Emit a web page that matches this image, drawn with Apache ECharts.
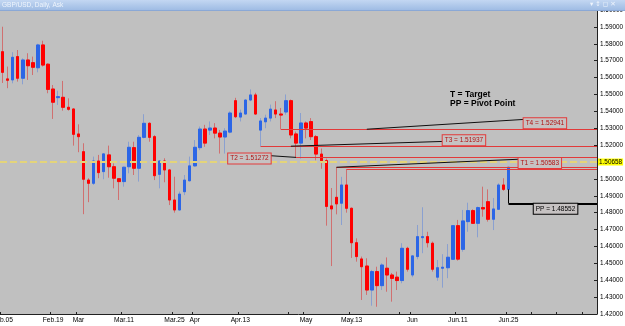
<!DOCTYPE html>
<html>
<head>
<meta charset="utf-8">
<script src="https://cdn.jsdelivr.net/npm/echarts@6/dist/echarts.min.js"></script>
<style>
html,body{margin:0;padding:0;background:#ffffff;}
#chart{width:625px;height:326px;}
</style>
</head>
<body>
<div id="chart"></div>
<script>
// ---------------- data ----------------
const firstDay = '2010-02-05';
const totalSlots = 118; // trading-day slots shown (incl. empty future space)

const opens = [1.5753,1.5592,1.5586,1.5724,1.5596,1.5704,1.5688,1.5658,1.5793,1.5679,
1.5532,1.5481,1.5483,1.5424,1.5414,1.5266,1.5161,1.4993,1.4974,1.5106,
1.5043,1.5142,1.5072,1.5001,1.4984,1.5072,1.5185,1.5063,1.5246,1.5329,
1.5250,1.5027,1.5106,1.5053,1.4875,1.4816,1.4924,1.4989,1.5077,1.5185,
1.5295,1.5289,1.5301,1.5271,1.5248,1.5277,1.5463,1.5366,1.5384,1.5467,
1.5497,1.5289,1.5338,1.5360,1.5408,1.5384,1.5396,1.5463,1.5266,1.5212,
1.5331,1.5339,1.5250,1.5147,1.5108,1.4840,1.4891,1.4856,1.4964,1.4826,
1.4622,1.4526,1.4484,1.4342,1.4451,1.4368,1.4471,1.4431,1.4418,1.4398,
1.4589,1.4431,1.4540,1.4652,1.4658,1.4619,1.4418,1.4471,1.4474,1.4524,
1.4723,1.4583,1.4747,1.4812,1.4737,1.4830,1.4865,1.4761,1.4820,1.4964,
1.4938];
const highs = [1.5901,1.5665,1.5750,1.5763,1.5714,1.5744,1.5724,1.5800,1.5818,1.5684,
1.5556,1.5522,1.5580,1.5477,1.5418,1.5323,1.5211,1.5004,1.5132,1.5142,
1.5152,1.5197,1.5092,1.5004,1.5072,1.5220,1.5220,1.5259,1.5383,1.5335,
1.5259,1.5112,1.5122,1.5059,1.5013,1.4925,1.5023,1.5132,1.5230,1.5310,
1.5320,1.5340,1.5330,1.5290,1.5300,1.5400,1.5480,1.5410,1.5470,1.5530,
1.5510,1.5360,1.5380,1.5440,1.5460,1.5420,1.5500,1.5470,1.5280,1.5390,
1.5340,1.5360,1.5260,1.5180,1.5120,1.4946,1.5069,1.5012,1.5058,1.4830,
1.4648,1.4540,1.4530,1.4461,1.4480,1.4500,1.4535,1.4443,1.4451,1.4619,
1.4598,1.4549,1.4727,1.4832,1.4687,1.4629,1.4520,1.4554,1.4614,1.4727,
1.4757,1.4816,1.4859,1.4820,1.4836,1.4954,1.4938,1.4887,1.4974,1.5004,
1.5071];
const lows = [1.5568,1.5537,1.5566,1.5576,1.5560,1.5586,1.5615,1.5631,1.5665,1.5507,
1.5355,1.5438,1.5404,1.5404,1.5197,1.5158,1.4791,1.4862,1.4964,1.5004,
1.4998,1.5007,1.4944,1.4875,1.4954,1.5033,1.5023,1.4984,1.5240,1.5220,
1.4993,1.4944,1.4980,1.4845,1.4800,1.4812,1.4904,1.4984,1.5072,1.5170,
1.5190,1.5260,1.5240,1.5150,1.5150,1.5270,1.5360,1.5340,1.5380,1.5460,
1.5380,1.51937,1.5300,1.5340,1.5360,1.52941,1.5380,1.5240,1.51272,1.5120,
1.5240,1.5230,1.5110,1.5060,1.4723,1.4484,1.4790,1.4727,1.4800,1.4532,
1.4510,1.4283,1.4313,1.4249,1.4243,1.4342,1.4332,1.4273,1.4342,1.4382,
1.4451,1.4418,1.4524,1.4560,1.4594,1.4451,1.4397,1.4356,1.4412,1.4520,
1.4516,1.4569,1.4687,1.4733,1.4654,1.4776,1.4747,1.4697,1.4816,1.4929,
1.4930];
const closes = [1.5631,1.5584,1.5720,1.5596,1.5704,1.5670,1.5661,1.5793,1.5674,1.5530,
1.5454,1.5487,1.5424,1.5412,1.5264,1.5250,1.4998,1.4974,1.5106,1.5037,
1.5148,1.5072,1.5004,1.4984,1.5069,1.5187,1.5063,1.5246,1.5329,1.5246,
1.5019,1.5106,1.5053,1.4875,1.4816,1.4910,1.4993,1.5077,1.5187,1.5295,
1.5212,1.5301,1.5271,1.5248,1.5283,1.5390,1.5368,1.5390,1.5467,1.5497,
1.5384,1.5343,1.5360,1.5413,1.5384,1.5378,1.5463,1.5260,1.5212,1.5331,
1.5301,1.5250,1.5147,1.5108,1.4837,1.4822,1.4852,1.4964,1.4826,1.4622,
1.4540,1.4480,1.4342,1.4451,1.4368,1.4490,1.4431,1.4411,1.4398,1.4589,
1.4465,1.4544,1.4658,1.4658,1.4622,1.4465,1.4474,1.4477,1.4536,1.4723,
1.4525,1.4751,1.4812,1.4737,1.4830,1.4822,1.4761,1.4822,1.4964,1.4938,
1.5069];

const askPrice = 1.50658;
const targetNames = ['T1','T2','T3','T4'];
const targetValues = [1.50583, 1.51272, 1.51937, 1.52941];
const pivotName = 'PP';
const pivotValue = 1.48552;
const noteLines = ['T = Target', 'PP = Pivot Point'];
const titleText = 'GBP/USD, Daily, Ask';

const tickLabelDates = ['2010-02-05','2010-02-19','2010-02-26','2010-03-11','2010-03-25','2010-03-31','2010-04-13','2010-04-30','2010-05-13','2010-05-31','2010-06-11','2010-06-25'];
const tickLabels = ['Feb.05','Feb.19','Mar','Mar.11','Mar.25','Apr','Apr.13','May','May.13','Jun','Jun.11','Jun.25'];
const extraTickDates = ['2010-04-27','2010-05-27','2010-07-02','2010-07-09','2010-07-16'];

// rays drawn from a candle extreme to the right edge: start date, price
const rayDates = ['2010-04-19','2010-04-28','2010-04-23','2010-05-10','2010-05-12'];
const rayPrices = [1.51937, 1.51272, 1.52941, 1.5069, 1.50583];

// ---------------- build ----------------
const W = 625, H = 326;
const gridLeft = 0, gridRight = 28, gridTop = 10, gridBottom = 12;
const plotRight = W - gridRight;

const categories = [];
(function(){
  const d = new Date(firstDay + 'T00:00:00Z');
  while (categories.length < totalSlots) {
    const wd = d.getUTCDay();
    if (wd !== 0 && wd !== 6) categories.push(d.toISOString().slice(0,10));
    d.setUTCDate(d.getUTCDate() + 1);
  }
})();
const idxOf = s => categories.indexOf(s);
const lastIdx = opens.length - 1;

const candleData = opens.map((o,i)=>[o, closes[i], lows[i], highs[i]]);
const bodyData = opens.map((o,i)=>[o, closes[i], Math.min(o,closes[i]), Math.max(o,closes[i])]);

const labelMap = {};
tickLabelDates.forEach((d,i)=>labelMap[d]=tickLabels[i]);
const tickSet = new Set(tickLabelDates.concat(extraTickDates));

const red = '#ff0000', blue = '#2c66e6';
const lineRed = '#e23a3a';
const solid = (c,w)=>({color:c, width:w, type:'solid'});

const markLines = [];
rayDates.forEach((d,i)=>{
  markLines.push([{coord:[idxOf(d), rayPrices[i]], lineStyle:solid(lineRed,1)}, {coord:[totalSlots-1, rayPrices[i]], x: plotRight}]);
});
// black connectors from level to label
const T = targetValues;
markLines.push([{coord:[72, T[3]], lineStyle:solid('#101010',1)}, {coord:[103, T[3]+0.0058]}]);
markLines.push([{coord:[57, T[2]], lineStyle:solid('#101010',1)}, {coord:[87, T[2]+0.0028]}]);
markLines.push([{coord:[53, T[1]+0.0010], lineStyle:solid('#101010',1)}, {coord:[58, T[1]]}]);
markLines.push([{coord:[66, rayPrices[3]], lineStyle:solid('#101010',1)}, {coord:[102, T[0]+0.0058]}]);
// pivot
markLines.push([{coord:[lastIdx, opens[lastIdx]], lineStyle:solid('#000',1)}, {coord:[lastIdx, pivotValue]}]);
markLines.push([{coord:[lastIdx, pivotValue], lineStyle:solid('#000',2)}, {coord:[totalSlots-1, pivotValue], x: plotRight}]);

const boxLabel = (txt, pos, offset, col, bcol) => ({
  show:true, position:pos, distance:0, offset:offset, formatter:txt,
  color:col, fontSize:6.5, fontFamily:'Liberation Sans, Arial, sans-serif',
  backgroundColor:'#c6c2c2', borderColor:bcol, borderWidth:1, padding:[2,2,1,2], lineHeight:7
});
const fmt = v => v.toFixed(5);
const markPoints = [
  {coord:[103, T[3]], label: boxLabel(targetNames[3]+' = '+fmt(T[3]), 'right', [0,-6], '#b01010', lineRed)},
  {coord:[87, T[2]], label: boxLabel(targetNames[2]+' = '+fmt(T[2]), 'right', [0,-6], '#b01010', lineRed)},
  {coord:[53, T[1]], label: boxLabel(targetNames[1]+' = '+fmt(T[1]), 'left', [0,1], '#b01010', lineRed)},
  {coord:[102, T[0]], label: boxLabel(targetNames[0]+' = '+fmt(T[0]), 'right', [0,-6], '#b01010', lineRed)},
  {coord:[105, pivotValue], label: boxLabel(pivotName+' = '+fmt(pivotValue), 'right', [0,5.5], '#000', '#000')}
];

const chart = echarts.init(document.getElementById('chart'), null, {renderer:'canvas', width:W, height:H});
const axisFont = 'Liberation Sans, Arial, sans-serif';

chart.setOption({
  animation:false,
  backgroundColor:'#ffffff',
  grid:{left:gridLeft, right:gridRight, top:gridTop, bottom:gridBottom, containLabel:false, outerBoundsMode:'none',
        show:true, backgroundColor:'#c0c0c0', borderWidth:0},
  xAxis:{
    type:'category', data:categories, boundaryGap:true,
    axisLine:{show:true, lineStyle:{color:'#202020', width:1}},
    axisTick:{show:true, inside:true, length:2, lineStyle:{color:'#202020'}, interval:(i,v)=>tickSet.has(v)},
    axisLabel:{show:true, interval:(i,v)=>labelMap[v]!==undefined, formatter:v=>labelMap[v]||'', color:'#000', fontSize:6.7, fontFamily:axisFont, margin:3, hideOverlap:false},
    splitLine:{show:false}
  },
  yAxis:{
    type:'value', position:'right', min:1.42, max:1.60, interval:0.01,
    axisLine:{show:true, lineStyle:{color:'#202020', width:1}},
    axisTick:{show:true, inside:true, length:3, lineStyle:{color:'#202020'}},
    axisLabel:{show:true, formatter:v=>v.toFixed(5), color:'#000', fontSize:6.4, fontFamily:axisFont, margin:3},
    splitLine:{show:false}
  },
  series:[
    {
      type:'line', data:[], z:1, silent:true,
      markLine:{silent:true, symbol:['none','none'], animation:false,
        data:[{yAxis:askPrice, lineStyle:{color:'#e4d47a', width:2, type:[7,3]},
          label:{show:true, position:'end', distance:1, formatter:fmt(askPrice), color:'#000', fontSize:6.4, fontFamily:axisFont, backgroundColor:'#ffff00', padding:[1,1,0,1]}}]}
    },
    {
      type:'candlestick', data:candleData, z:2, barWidth:3, silent:true,
      itemStyle:{color:'#8aa0d0', color0:'#d07070', borderColor:'#8aa0d0', borderColor0:'#d07070', borderWidth:1}
    },
    {
      type:'candlestick', data:bodyData, z:3, barWidth:3, silent:true,
      itemStyle:{color:blue, color0:red, borderColor:blue, borderColor0:red, borderWidth:1}
    },
    {
      type:'line', data:[], z:5, silent:true,
      markLine:{silent:true, symbol:['none','none'], animation:false, label:{show:false}, lineStyle:{type:'solid'}, data:markLines},
      markPoint:{silent:true, symbol:'rect', symbolSize:0, animation:false, data:markPoints}
    }
  ],
  graphic:[
    {type:'rect', left:0, top:0, z:100, shape:{width:W, height:10},
      style:{fill:new echarts.graphic.LinearGradient(0,0,0,1,[{offset:0,color:'#c3d7f2'},{offset:1,color:'#9fbce4'}])}},
    {type:'rect', left:0, top:10, z:100, shape:{width:W, height:1}, style:{fill:'#8aa8d6'}},
    {type:'text', left:2, top:1.5, z:101, style:{text:titleText, fill:'#eef4fc', font:'6.5px Liberation Sans, Arial, sans-serif'}},
    {type:'text', left:590, top:0.5, z:101, style:{text:'\u25BE \u2195 \u25FB \u2715', fill:'#eef4fc', font:'6.5px DejaVu Sans, sans-serif'}},
    {type:'text', left:450, top:90, z:50, style:{text:noteLines[0], fill:'#000', font:'bold 8.5px Liberation Sans, Arial, sans-serif'}},
    {type:'text', left:450, top:99, z:50, style:{text:noteLines[1], fill:'#000', font:'bold 8.5px Liberation Sans, Arial, sans-serif'}}
  ]
});
</script>
</body>
</html>
